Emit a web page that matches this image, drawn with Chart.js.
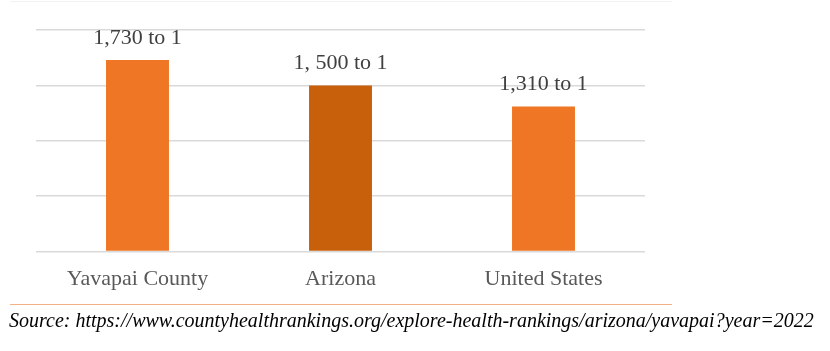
<!DOCTYPE html>
<html>
<head>
<meta charset="utf-8">
<script src="https://cdn.jsdelivr.net/npm/chart.js@4"></script>
<style>
  body { margin: 0; background: #fff; }
  #wrap { position: relative; width: 830px; height: 351px; }
  #topline { position: absolute; left: 10px; top: 1px; width: 662px; border-top: 1px solid #f2f2f2; }
  #srcline { position: absolute; left: 10px; top: 304px; width: 662px; border-top: 1px solid #f4b183; }
  #source { position: absolute; left: 9px; top: 309px; font: italic 20px "Liberation Serif", "Times New Roman", serif; color: #000; white-space: nowrap; }
</style>
</head>
<body>
<div id="wrap">
  <canvas id="myChart" width="830" height="351"></canvas>
  <div id="topline"></div>
  <div id="srcline"></div>
  <div id="source">Source: https://www.countyhealthrankings.org/explore-health-rankings/arizona/yavapai?year=2022</div>
</div>
<script>
const categories = ["Yavapai County", "Arizona", "United States"];
const ratios = [1730, 1500, 1310];
const ratioLabels = ["1,730 to 1", "1, 500 to 1", "1,310 to 1"];
const barColors = ["#ee7624", "#c85f0a", "#ee7624"];

// draws the "x to 1" text above each bar
const barLabels = {
  id: "barLabels",
  afterDatasetsDraw(chart) {
    const ctx = chart.ctx;
    const meta = chart.getDatasetMeta(0);
    ctx.save();
    ctx.font = '22px "Liberation Serif", "Times New Roman", serif';
    ctx.fillStyle = "#404040";
    ctx.textAlign = "center";
    ctx.textBaseline = "alphabetic";
    meta.data.forEach((bar, i) => {
      ctx.fillText(ratioLabels[i], bar.x, bar.y - 16);
    });
    ctx.restore();
  }
};

const ctx = document.getElementById("myChart").getContext("2d");
new Chart(ctx, {
  type: "bar",
  data: {
    labels: categories,
    datasets: [{
      data: ratios,
      backgroundColor: barColors,
      categoryPercentage: 1,
      barPercentage: 0.31
    }]
  },
  options: {
    responsive: false,
    animation: false,
    layout: { padding: { left: 36, right: 185, top: 30, bottom: 53 } },
    plugins: { legend: { display: false }, tooltip: { enabled: false } },
    scales: {
      x: {
        grid: { display: false },
        border: { display: false },
        ticks: {
          padding: 6,
          color: "#595959",
          font: { family: '"Liberation Serif", "Times New Roman", serif', size: 22 }
        }
      },
      y: {
        min: 0,
        max: 2000,
        ticks: { display: false, stepSize: 500 },
        border: { display: false },
        grid: { color: "#d9d9d9", lineWidth: 1.5, drawTicks: false }
      }
    }
  },
  plugins: [barLabels]
});
</script>
</body>
</html>
